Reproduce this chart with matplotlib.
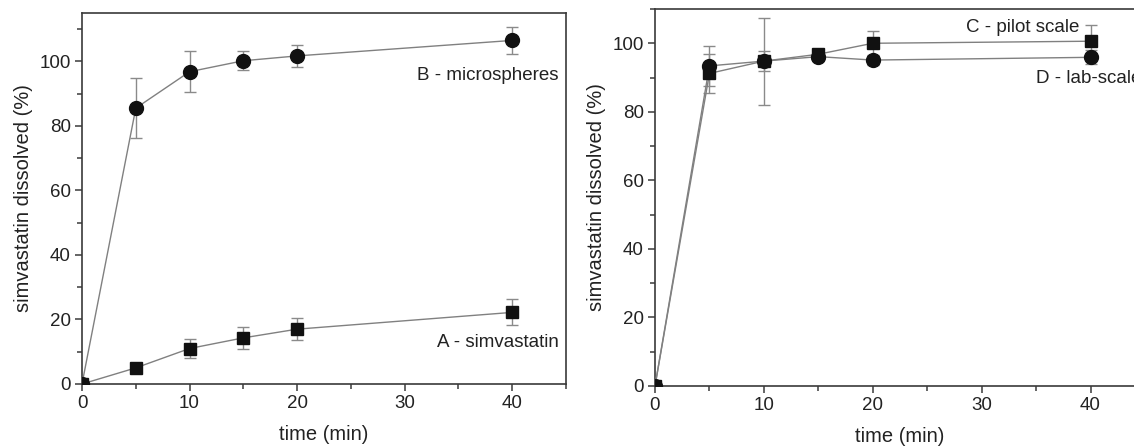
import matplotlib
matplotlib.use("Agg")
import matplotlib.pyplot as plt
from matplotlib.ticker import MultipleLocator

plt.rcParams['font.family'] = ['Liberation Sans', 'DejaVu Sans']

time = [0, 5, 10, 15, 20, 40]

# Left panel
b_micro = [0, 85.5, 96.8, 100.2, 101.7, 106.5]
b_err = [0, 9.2, 6.4, 3.0, 3.4, 4.2]
a_simva = [0, 5.0, 11.0, 14.3, 17.0, 22.2]
a_err = [0, 1.0, 3.0, 3.4, 3.4, 4.0]

# Right panel
c_pilot = [0, 91.2, 94.8, 96.8, 100.0, 100.6]
c_err = [0, 5.6, 12.7, 1.0, 3.6, 4.7]
d_lab = [0, 93.4, 94.8, 96.1, 95.1, 95.9]
d_err = [0, 5.8, 2.8, 1.2, 1.5, 2.0]

W, H = 1134, 447
fig = plt.figure(figsize=(W / 100, H / 100), dpi=100)

def px_axes(l, r, t, b):
    return fig.add_axes([l / W, 1 - b / H, (r - l) / W, (b - t) / H])

ax1 = px_axes(82, 566, 13, 384)
ax2 = px_axes(655, 1145, 9, 386)

line_c = '#808080'
err_c = '#8a8a8a'
spine_c = '#3a3a3a'
fs = 13.5
lfs = 14.5

def style(ax, ylim, minor_y):
    ax.set_xlim(0, 45)
    ax.set_ylim(*ylim)
    ax.xaxis.set_major_locator(MultipleLocator(10))
    ax.xaxis.set_minor_locator(MultipleLocator(5))
    ax.yaxis.set_major_locator(MultipleLocator(20))
    ax.yaxis.set_minor_locator(MultipleLocator(minor_y))
    ax.tick_params(which='both', direction='out', top=False, right=False,
                   colors=spine_c, labelcolor='#222222', width=1.1)
    ax.tick_params(which='major', length=5, labelsize=fs, pad=3)
    ax.tick_params(which='minor', length=3.5)
    for s in ax.spines.values():
        s.set_color(spine_c)
        s.set_linewidth(1.2)
    ax.set_xlabel('time (min)', fontsize=lfs, color='#222222', labelpad=9)
    ax.set_ylabel('simvastatin dissolved (%)', fontsize=lfs, color='#222222', labelpad=5)

def series(ax, y, err, marker, ms):
    ax.errorbar(time, y, yerr=err, fmt='none', ecolor=err_c, elinewidth=1.0,
                capsize=4, capthick=1.0, zorder=2)
    ax.plot(time, y, color=line_c, lw=1.0, zorder=3)
    ax.plot(time, y, linestyle='none', marker=marker, ms=ms, color='#111111',
            markeredgecolor='#111111', zorder=4)

series(ax1, b_micro, b_err, 'o', 10)
series(ax1, a_simva, a_err, 's', 8.5)
style(ax1, (0, 115), 10)
ax1.text(44.3, 95.7, 'B - microspheres', ha='right', va='center', fontsize=fs, color='#222222')
ax1.text(44.3, 13.0, 'A - simvastatin', ha='right', va='center', fontsize=fs, color='#222222')

series(ax2, c_pilot, c_err, 's', 8.5)
series(ax2, d_lab, d_err, 'o', 10)
style(ax2, (0, 110), 10)
ax2.text(39.0, 104.7, 'C - pilot scale', ha='right', va='center', fontsize=fs, color='#222222')
ax2.text(35.0, 89.8, 'D - lab-scale', ha='left', va='center', fontsize=fs, color='#222222')

fig.savefig('out.png', dpi=100)
